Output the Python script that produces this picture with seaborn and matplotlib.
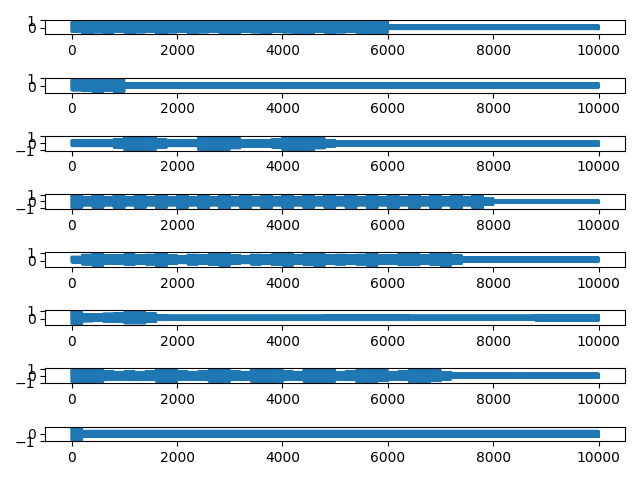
import numpy as np
import pandas as pd
import matplotlib
matplotlib.use("Agg")
import matplotlib.pyplot as plt
import seaborn as sns

# Signal envelopes: half-amplitude per 200-sample segment
# (50 segments over 10000 samples) and a centre level per channel.
n_samples = 10000
seg_len = 200

ch1_amp = [0.6, 0.75, 0.65, 0.7, 0.6, 0.7, 0.65, 0.6, 0.75, 0.65,
           0.6, 0.7, 0.65, 0.6, 0.7, 0.75, 0.6, 0.65, 0.7, 0.6,
           0.65, 0.7, 0.75, 0.6, 0.7, 0.65, 0.6, 0.7, 0.85, 0.7] + [0.25] * 20
ch2_amp = [0.65, 0.75, 0.87, 0.7, 0.85] + [0.28] * 45
ch3_amp = [0.4, 0.4, 0.4, 0.4, 0.6, 0.9, 0.95, 0.9, 0.6, 0.4,
           0.4, 0.4, 0.9, 0.95, 0.9, 0.7, 0.45, 0.45, 0.45, 0.6,
           0.95, 0.97, 0.95, 0.7, 0.45] + [0.33] * 25
ch4_amp = [0.97, 0.55] * 19 + [0.95, 0.5] + [0.2] * 10
ch5_amp = [0.35, 0.6, 0.75, 0.55, 0.5, 0.65, 0.5, 0.6, 0.85, 0.55,
           0.45, 0.6, 0.5, 0.65, 0.75, 0.55, 0.45, 0.6, 0.55, 0.65,
           0.75, 0.5, 0.7, 0.75, 0.5, 0.6, 0.55, 0.6, 0.75, 0.55,
           0.5, 0.7, 0.7, 0.5, 0.65, 0.75, 0.55] + [0.25] * 13
ch6_amp = [0.85, 0.45, 0.4, 0.5, 0.55, 0.7, 0.7, 0.55, 0.3] + [0.25] * 15 \
          + [0.3] * 8 + [0.25] * 12 + [0.35] * 6
ch7_amp = [0.85, 0.9, 0.8, 0.6, 0.55, 0.6, 0.55, 0.6, 0.8, 0.9,
           0.6, 0.55, 0.6, 0.8, 0.85, 0.6, 0.55, 0.8, 0.95, 0.85,
           0.6, 0.55, 0.8, 0.9, 0.8, 0.55, 0.6, 0.8, 0.85, 0.75,
           0.55, 0.6, 0.85, 0.9, 0.75, 0.5] + [0.3] * 14
ch8_amp = [0.88] + [0.4] * 49

amps = [ch1_amp, ch2_amp, ch3_amp, ch4_amp, ch5_amp, ch6_amp, ch7_amp, ch8_amp]
centres = [0.1, 0.1, 0.0, 0.0, 0.12, 0.12, 0.0, -0.05]

x = np.arange(n_samples)
sign = np.where(x % 2 == 0, 1.0, -1.0)

fig, axes = plt.subplots(len(amps), 1, figsize=(6.4, 4.8), dpi=100)
for ax, amp, c in zip(axes, amps, centres):
    env = np.repeat(np.asarray(amp, dtype=float), seg_len)
    y = c + env * sign
    df = pd.DataFrame({"x": x, "y": y})
    sns.lineplot(data=df, x="x", y="y", ax=ax, estimator=None,
                 color="#1f77b4", linewidth=1.5)
    ax.set_xlabel("")
    ax.set_ylabel("")
fig.tight_layout()
fig.savefig("out.png", dpi=100)
